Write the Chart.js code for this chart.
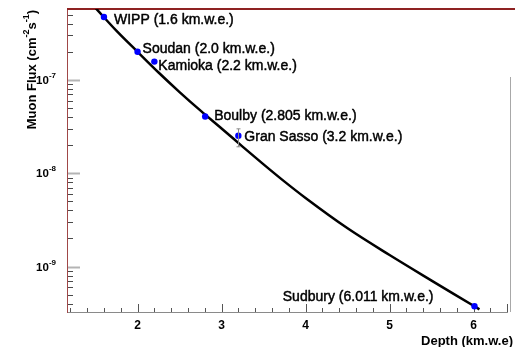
<!DOCTYPE html>
<html>
<head>
<meta charset="utf-8">
<script src="https://cdn.jsdelivr.net/npm/chart.js@4.4.1/dist/chart.umd.min.js"></script>
<style>
  html, body { margin: 0; padding: 0; background: #ffffff; }
  canvas { display: block; }
</style>
</head>
<body>
<canvas id="chart" width="515" height="347"></canvas>
<script>
// Depth-intensity curve for cosmic-ray muons, sampled along depth (km.w.e.)
const curveDepth = [1.50, 1.75, 2.00, 2.25, 2.50, 2.75, 3.00, 3.25, 3.50, 3.75, 4.00, 4.50, 5.00, 5.50, 6.00, 6.07];
const curveFlux  = [5.89e-7, 3.35e-7, 2.00e-7, 1.20e-7, 7.41e-8, 4.68e-8, 3.02e-8, 1.93e-8, 1.245e-8, 8.13e-9, 5.43e-9, 2.57e-9, 1.33e-9, 7.08e-10, 3.80e-10, 3.48e-10];

// Underground laboratories
const siteNames = ['WIPP', 'Soudan', 'Kamioka', 'Boulby', 'Gran Sasso', 'Sudbury'];
const siteDepth = [1.6, 2.0, 2.2, 2.805, 3.2, 6.011];
const siteDepthText = ['1.6', '2.0', '2.2', '2.805', '3.2', '6.011'];
const siteFlux  = [4.72e-7, 2.0e-7, 1.57e-7, 4.06e-8, 2.52e-8, 3.76e-10];
const siteFluxLow  = [null, null, null, null, 1.92e-8, null];
const siteFluxHigh = [null, null, null, null, 2.99e-8, null];

// Axis ticks
const xTickValues = [2, 3, 4, 5, 6];
const yDecades = [-9, -8, -7];
const xRange = [1.16, 6.41];
const yRange = [3.26e-10, 5.75e-7];

// Where each site name sits relative to its marker
const labelPlacement = [
  { dx: 10, dy: 3,  align: 'left' },
  { dx: 5,  dy: -3, align: 'left' },
  { dx: 4,  dy: 5,  align: 'left' },
  { dx: 9,  dy: 0,  align: 'left' },
  { dx: 6,  dy: 1,  align: 'left' },
  { dx: -41, dy: -9, align: 'right' }
];

const FONT = '"Liberation Sans", Arial, Helvetica, sans-serif';

const framePlugin = {
  id: 'frame',
  beforeDatasetsDraw(chart) {
    const { ctx, chartArea: a, scales: { x, y } } = chart;
    ctx.save();

    // faint right edge
    ctx.strokeStyle = '#a8a8a8';
    ctx.lineWidth = 1;
    ctx.beginPath();
    ctx.moveTo(a.right + 2.5, 77);
    ctx.lineTo(a.right + 2.5, a.bottom);
    ctx.stroke();

    // bottom axis
    ctx.strokeStyle = '#8a8a8a';
    ctx.lineWidth = 1;
    ctx.beginPath();
    ctx.moveTo(a.left, a.bottom + 0.5);
    ctx.lineTo(a.right, a.bottom + 0.5);
    ctx.stroke();

    // x tick marks, pointing into the plot
    ctx.strokeStyle = '#555555';
    for (let i = 6; i <= 64; i++) {
      const v = i / 5;
      if (v < xRange[0] || v > xRange[1]) continue;
      const px = Math.round(x.getPixelForValue(v)) + 0.5;
      const len = (i % 5 === 0) ? 8 : 4;
      ctx.beginPath();
      ctx.moveTo(px, a.bottom);
      ctx.lineTo(px, a.bottom - len);
      ctx.stroke();
    }
    // closing tick at the right end of the axis
    ctx.beginPath();
    ctx.moveTo(a.right - 0.5, a.bottom);
    ctx.lineTo(a.right - 0.5, a.bottom - 8);
    ctx.stroke();

    // y tick marks (log minor + decade majors)
    for (let e = -10; e <= -7; e++) {
      for (let m = 1; m <= 9; m++) {
        const v = m * Math.pow(10, e);
        if (v < yRange[0] || v > yRange[1]) continue;
        const py = Math.round(y.getPixelForValue(v)) + 0.5;
        if (m === 1) {
          ctx.strokeStyle = '#b4b4b4';
          ctx.lineWidth = 2;
          ctx.beginPath();
          ctx.moveTo(a.left, py);
          ctx.lineTo(a.left + 13, py);
          ctx.stroke();
        } else {
          ctx.strokeStyle = '#4a4a4a';
          ctx.lineWidth = 1;
          ctx.beginPath();
          ctx.moveTo(a.left, py);
          ctx.lineTo(a.left + 6, py);
          ctx.stroke();
        }
      }
    }

    // left axis line
    ctx.strokeStyle = '#a04848';
    ctx.lineWidth = 1;
    ctx.beginPath();
    ctx.moveTo(a.left + 0.5, a.top);
    ctx.lineTo(a.left + 0.5, a.bottom + 1);
    ctx.stroke();

    // top border
    ctx.strokeStyle = '#8e2222';
    ctx.lineWidth = 2;
    ctx.beginPath();
    ctx.moveTo(a.left, a.top);
    ctx.lineTo(chart.width, a.top);
    ctx.stroke();

    // y decade labels: 10 with a raised exponent
    ctx.fillStyle = '#000000';
    ctx.textBaseline = 'middle';
    for (const e of yDecades) {
      const py = y.getPixelForValue(Math.pow(10, e));
      const expTxt = '-' + Math.abs(e);
      ctx.font = 'bold 8px ' + FONT;
      const ew = ctx.measureText(expTxt).width;
      ctx.textAlign = 'right';
      ctx.fillText(expTxt, 56, py - 4);
      ctx.font = 'bold 11.5px ' + FONT;
      ctx.fillText('10', 56 - ew, py + 1);
    }

    // y axis title, read bottom to top
    ctx.save();
    ctx.translate(32, 10);
    ctx.rotate(-Math.PI / 2);
    const parts = [
      { t: 'Muon Flux (cm', size: 13, rise: 0 },
      { t: '-2', size: 9, rise: -5 },
      { t: 's', size: 13, rise: 0 },
      { t: '-1', size: 9, rise: -5 },
      { t: ')', size: 13, rise: 0 }
    ];
    let total = 0;
    for (const p of parts) {
      ctx.font = 'bold ' + p.size + 'px ' + FONT;
      p.w = ctx.measureText(p.t).width;
      total += p.w;
    }
    let cx = -total;
    ctx.textAlign = 'left';
    ctx.textBaseline = 'middle';
    for (const p of parts) {
      ctx.font = 'bold ' + p.size + 'px ' + FONT;
      ctx.fillText(p.t, cx, p.rise);
      cx += p.w;
    }
    ctx.restore();

    // x axis title
    ctx.font = 'bold 13px ' + FONT;
    ctx.textAlign = 'right';
    ctx.textBaseline = 'middle';
    ctx.fillText('Depth (km.w.e)', 513, 341);

    ctx.restore();
  },
  afterDatasetsDraw(chart) {
    const { ctx, scales: { x, y } } = chart;
    ctx.save();

    // error bars
    ctx.strokeStyle = '#8a8a8a';
    ctx.lineWidth = 1;
    siteDepth.forEach((d, i) => {
      if (siteFluxLow[i] == null) return;
      const px = Math.round(x.getPixelForValue(d)) + 0.5;
      const y0 = y.getPixelForValue(siteFluxLow[i]);
      const y1 = y.getPixelForValue(siteFluxHigh[i]);
      ctx.beginPath();
      ctx.moveTo(px, y0); ctx.lineTo(px, y1);
      ctx.moveTo(px - 2, y0); ctx.lineTo(px + 2, y0);
      ctx.moveTo(px - 2, y1); ctx.lineTo(px + 2, y1);
      ctx.stroke();
    });

    // site names with depths (slightly heavier than regular weight)
    ctx.fillStyle = '#000000';
    ctx.strokeStyle = '#000000';
    ctx.lineWidth = 0.45;
    ctx.lineJoin = 'round';
    ctx.font = '14px ' + FONT;
    ctx.textBaseline = 'middle';
    siteDepth.forEach((d, i) => {
      const lp = labelPlacement[i];
      const px = x.getPixelForValue(d);
      const py = y.getPixelForValue(siteFlux[i]);
      const txt = siteNames[i] + ' (' + siteDepthText[i] + ' km.w.e.)';
      ctx.textAlign = lp.align;
      ctx.fillText(txt, px + lp.dx, py + lp.dy);
      ctx.strokeText(txt, px + lp.dx, py + lp.dy);
    });

    ctx.restore();
  }
};

new Chart(document.getElementById('chart'), {
  type: 'scatter',
  data: {
    datasets: [
      {
        label: 'fit',
        data: curveDepth.map((d, i) => ({ x: d, y: curveFlux[i] })),
        showLine: true,
        borderColor: '#000000',
        borderWidth: 2.5,
        pointRadius: 0,
        cubicInterpolationMode: 'monotone',
        order: 2
      },
      {
        label: 'sites',
        data: siteDepth.map((d, i) => ({ x: d, y: siteFlux[i] })),
        showLine: false,
        backgroundColor: '#0000ff',
        borderColor: '#0000ff',
        borderWidth: 0,
        pointRadius: 3.2,
        order: 1
      }
    ]
  },
  options: {
    responsive: false,
    animation: false,
    devicePixelRatio: 1,
    layout: { padding: { left: 0, right: 7, top: 9, bottom: 0 } },
    plugins: {
      legend: { display: false },
      tooltip: { enabled: false }
    },
    scales: {
      x: {
        type: 'linear',
        min: xRange[0],
        max: xRange[1],
        bounds: 'data',
        grid: { display: false, drawTicks: false },
        border: { display: false },
        afterBuildTicks: (s) => { s.ticks = xTickValues.map(v => ({ value: v })); },
        afterFit: (s) => { s.height = 35; },
        ticks: {
          color: '#000000',
          font: { family: FONT, size: 12, weight: 'bold' },
          padding: 6,
          maxRotation: 0,
          autoSkip: false,
          callback: (v) => String(v)
        }
      },
      y: {
        type: 'logarithmic',
        min: yRange[0],
        max: yRange[1],
        bounds: 'data',
        grid: { display: false, drawTicks: false },
        border: { display: false },
        ticks: { display: false },
        afterFit: (s) => { s.width = 67; }
      }
    }
  },
  plugins: [framePlugin]
});
</script>
</body>
</html>
